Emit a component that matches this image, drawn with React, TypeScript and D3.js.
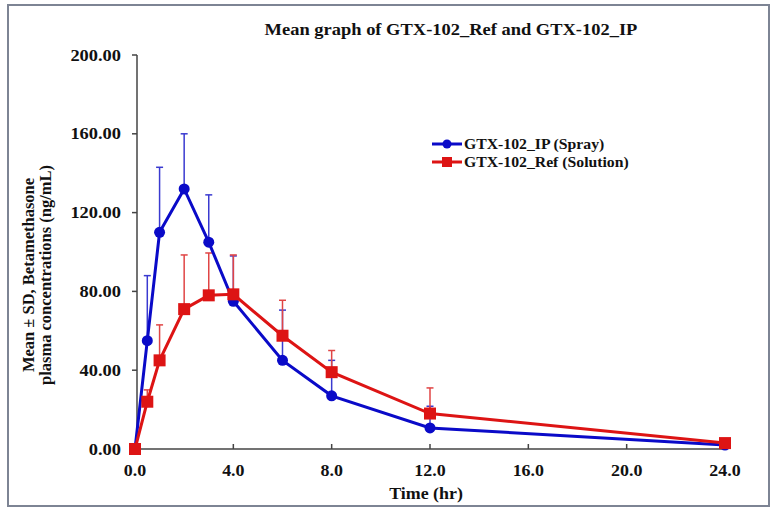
import React from "react";
import * as d3 from "d3";

const times = [0, 0.5, 1, 2, 3, 4, 6, 8, 12, 24];
const ipMean = [0, 55, 110, 132, 105, 75, 45, 27, 10.7, 2];
const ipSD = [0, 33, 33, 28, 24, 23, 25.5, 18, 11, 1];
const refMean = [0, 24, 45, 71, 78, 78.5, 57.5, 39, 18, 3];
const refSD = [0, 6, 18, 27.5, 21.5, 20, 18, 11, 13, 1];
const xTicks = [0, 4, 8, 12, 16, 20, 24];
const yTicks = [0, 40, 80, 120, 160, 200];

const W = 776, H = 508;
const font = "'Liberation Serif', 'Times New Roman', serif";

function SText(props: { x: number; y: number; sx: number; size: number; anchor?: string; children: React.ReactNode }) {
  return (
    <text
      transform={`translate(${props.x},${props.y}) scale(${props.sx},1)`}
      textAnchor={props.anchor || "start"}
      fontSize={props.size}
      fontWeight="bold"
      fill="#111"
    >
      {props.children}
    </text>
  );
}

export default function App() {
  const x = d3.scaleLinear().domain([0, 24]).range([135, 725]);
  const y = d3.scaleLinear().domain([0, 200]).range([449, 55]);
  const line = d3.line<number>().x((_, i) => x(times[i])).y((d) => y(d));
  const blue = "#0a0ac8";
  const red = "#dd1414";
  const series = [
    { mean: ipMean, sd: ipSD, color: blue, bar: "#3a3ad0", kind: "circle" },
    { mean: refMean, sd: refSD, color: red, bar: "#e04545", kind: "square" },
  ];
  return (
    <svg width={W} height={H} style={{ position: "absolute", left: 0, top: 0, background: "#fff" }} fontFamily={font}>
      <rect x={8} y={5} width={761} height={501} fill="#fff" stroke="#7d8494" strokeWidth={2} />
      <SText x={451} y={35} sx={1.12} size={16.5} anchor="middle">
        Mean graph of GTX-102_Ref and GTX-102_IP
      </SText>
      {/* axes */}
      <line x1={137} x2={137} y1={y(200)} y2={y(0)} stroke="#444" strokeWidth={1.5} />
      <line x1={137} x2={x(24)} y1={y(0)} y2={y(0)} stroke="#444" strokeWidth={1.5} />
      {yTicks.map((t) => (
        <g key={"y" + t}>
          <line x1={132} x2={137} y1={y(t)} y2={y(t)} stroke="#444" strokeWidth={1.5} />
          <SText x={121} y={y(t) + 5.5} sx={1.15} size={16} anchor="end">
            {t.toFixed(2)}
          </SText>
        </g>
      ))}
      {xTicks.map((t) => (
        <g key={"x" + t}>
          <line x1={x(t)} x2={x(t)} y1={y(0)} y2={y(0) - 5} stroke="#444" strokeWidth={1.5} />
          <SText x={x(t)} y={476} sx={1.12} size={16} anchor="middle">
            {t.toFixed(1)}
          </SText>
        </g>
      ))}
      <SText x={426} y={499} sx={1.12} size={16} anchor="middle">Time (hr)</SText>
      <g transform="translate(34,275) rotate(-90)">
        <text x={0} y={0} textAnchor="middle" fontSize={16.5} fontWeight="bold" fill="#111">Mean ± SD, Betamethasone</text>
        <text x={0} y={17} textAnchor="middle" fontSize={16.5} fontWeight="bold" fill="#111">plasma concentrations (ng/mL)</text>
      </g>
      {/* error bars */}
      {series.map((s, si) => (
        <g key={"e" + si}>
          {times.map((t, i) =>
            s.sd[i] > 0 ? (
              <g key={i}>
                <line x1={x(t)} x2={x(t)} y1={y(s.mean[i])} y2={y(s.mean[i] + s.sd[i])} stroke={s.bar} strokeWidth={1.5} />
                <line x1={x(t) - 3.5} x2={x(t) + 3.5} y1={y(s.mean[i] + s.sd[i])} y2={y(s.mean[i] + s.sd[i])} stroke={s.bar} strokeWidth={1.5} />
              </g>
            ) : null
          )}
        </g>
      ))}
      {series.map((s, si) => (
        <g key={"l" + si}>
          <path d={line(s.mean) || ""} fill="none" stroke={s.color} strokeWidth={3} />
          {times.map((t, i) =>
            s.kind === "circle" ? (
              <circle key={i} cx={x(t)} cy={y(s.mean[i])} r={5.5} fill={s.color} />
            ) : (
              <rect key={i} x={x(t) - 6} y={y(s.mean[i]) - 6} width={12} height={12} fill={s.color} />
            )
          )}
        </g>
      ))}
      {/* legend */}
      <g>
        <line x1={432} x2={462} y1={144} y2={144} stroke={blue} strokeWidth={3} />
        <circle cx={447} cy={144} r={4.5} fill={blue} />
        <SText x={464} y={149} sx={1.05} size={15}>GTX-102_IP (Spray)</SText>
        <line x1={432} x2={462} y1={162} y2={162} stroke={red} strokeWidth={3} />
        <rect x={442} y={157} width={10} height={10} fill={red} />
        <SText x={464} y={167} sx={1.05} size={15}>GTX-102_Ref (Solution)</SText>
      </g>
    </svg>
  );
}
